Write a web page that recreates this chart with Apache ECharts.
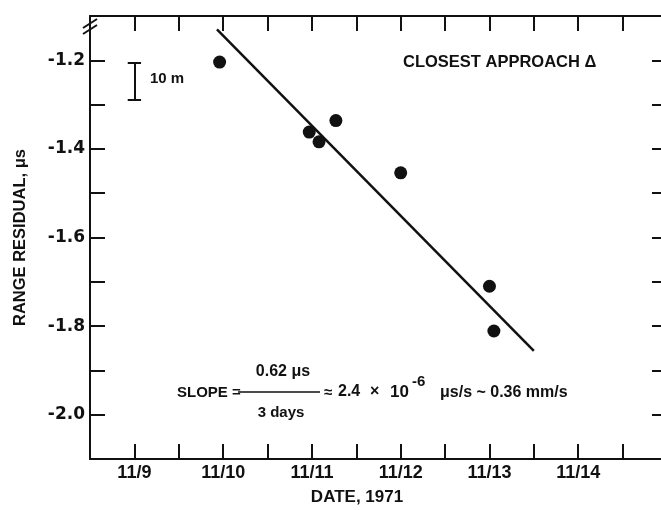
<!DOCTYPE html>
<html>
<head>
<meta charset="utf-8">
<script src="https://cdn.jsdelivr.net/npm/echarts@6/dist/echarts.min.js"></script>
<style>
  html, body { margin: 0; padding: 0; background: #fff; }
  #chart { width: 661px; height: 510px; }
</style>
</head>
<body>
<div id="chart"></div>
<script>
// Range residual at closest approach, November 1971 (date as day of November)
const obsDates = [9.96, 10.97, 11.08, 11.27, 12.00, 13.00, 13.05];
const obsResiduals = [-1.204, -1.362, -1.384, -1.336, -1.454, -1.710, -1.811];

// Fitted trend line end points
const fitDates = [9.93, 13.50];
const fitResiduals = [-1.130, -1.856];

// "10 m" scale bar (date, residual top, residual bottom)
const scaleBarDate = 9.0;
const scaleBarTop = -1.205;
const scaleBarBottom = -1.289;

// Tick labels
const xTickDays = [9, 10, 11, 12, 13, 14];
const xTickLabels = ['11/9', '11/10', '11/11', '11/12', '11/13', '11/14'];
const yTickValues = [-2.0, -1.8, -1.6, -1.4, -1.2];
const yTickLabels = ['-2.0', '-1.8', '-1.6', '-1.4', '-1.2'];

const FONT = 'Liberation Sans';
const WIDE = 'DejaVu Sans';
const INK = '#111';

const chart = echarts.init(document.getElementById('chart'), null, { renderer: 'canvas' });

const axisCommon = {
  type: 'value',
  axisLine: { show: true, lineStyle: { color: INK, width: 2 } },
  axisTick: { show: true, inside: true, length: 15, lineStyle: { color: INK, width: 2 } },
  splitLine: { show: false }
};

function xLabel(v) {
  const i = xTickDays.findIndex(d => Math.abs(d - v) < 1e-6);
  return i >= 0 ? xTickLabels[i] : '';
}
function yLabel(v) {
  const i = yTickValues.findIndex(d => Math.abs(d - v) < 1e-6);
  return i >= 0 ? yTickLabels[i] : '';
}

function txt(left, top, text, size, extra) {
  return Object.assign({
    type: 'text', left: left, top: top,
    style: { text: text, fill: INK, font: 'bold ' + size + 'px "' + FONT + '"' }
  }, extra || {});
}

const halfBar = 0.075;

chart.setOption({
  backgroundColor: '#fff',
  animation: false,
  grid: { left: 90, top: 16, width: 577, height: 443, outerBoundsMode: 'none', containLabel: false },
  xAxis: [
    Object.assign({}, axisCommon, {
      position: 'bottom', min: 8.5, max: 15, interval: 0.5,
      axisLabel: { show: true, formatter: xLabel, color: INK, fontFamily: FONT,
                   fontSize: 18, fontWeight: 'bold', margin: 5 }
    }),
    Object.assign({}, axisCommon, {
      position: 'top', min: 8.5, max: 15, interval: 0.5,
      axisLabel: { show: false }
    })
  ],
  yAxis: [
    Object.assign({}, axisCommon, {
      position: 'left', min: -2.1, max: -1.1, interval: 0.1,
      name: 'RANGE RESIDUAL, μs', nameLocation: 'middle', nameRotate: 90, nameGap: 61,
      nameTextStyle: { color: INK, fontFamily: FONT, fontSize: 16.5, fontWeight: 'bold' },
      axisLabel: { show: true, formatter: yLabel, color: INK, fontFamily: WIDE,
                   fontSize: 17, fontWeight: 'bold', margin: 5 }
    }),
    Object.assign({}, axisCommon, {
      position: 'right', min: -2.1, max: -1.1, interval: 0.1,
      axisLabel: { show: false }
    })
  ],
  series: [
    {
      type: 'line',
      data: fitDates.map((d, i) => [d, fitResiduals[i]]),
      symbol: 'none',
      lineStyle: { color: INK, width: 2.5 },
      silent: true,
      markLine: {
        silent: true,
        symbol: 'none',
        label: { show: false },
        lineStyle: { color: INK, width: 2, type: 'solid' },
        data: [
          [{ coord: [scaleBarDate, scaleBarTop] }, { coord: [scaleBarDate, scaleBarBottom] }],
          [{ coord: [scaleBarDate - halfBar, scaleBarTop] }, { coord: [scaleBarDate + halfBar, scaleBarTop] }],
          [{ coord: [scaleBarDate - halfBar, scaleBarBottom] }, { coord: [scaleBarDate + halfBar, scaleBarBottom] }]
        ]
      }
    },
    {
      type: 'scatter',
      data: obsDates.map((d, i) => [d, obsResiduals[i]]),
      symbol: 'circle',
      symbolSize: 13,
      itemStyle: { color: INK, opacity: 1 },
      silent: true
    }
  ],
  graphic: [
    // axis break mark at the upper left corner
    { type: 'line', shape: { x1: 83, y1: 28, x2: 97, y2: 19 }, style: { stroke: INK, lineWidth: 2 } },
    { type: 'line', shape: { x1: 83, y1: 34, x2: 97, y2: 25 }, style: { stroke: INK, lineWidth: 2 } },
    txt(403, 54, 'CLOSEST APPROACH Δ', 16.5),
    txt(150, 71, '10 m', 15),
    // slope annotation
    txt(177, 385, 'SLOPE =', 15),
    { type: 'line', shape: { x1: 238, y1: 392, x2: 320, y2: 392 }, style: { stroke: INK, lineWidth: 1.5 } },
    { type: 'text', x: 283, y: 372,
      style: { text: '0.62 μs', fill: INK, font: 'bold 16px "' + FONT + '"', align: 'center', verticalAlign: 'middle' } },
    { type: 'text', x: 281, y: 413,
      style: { text: '3 days', fill: INK, font: 'bold 15px "' + FONT + '"', align: 'center', verticalAlign: 'middle' } },
    txt(324, 385, '≈', 15),
    txt(338, 384, '2.4', 16),
    txt(370, 384, '×', 16),
    txt(390, 384, '10', 17),
    txt(412, 374, '-6', 15),
    txt(440, 385, 'μs/s ~ 0.36 mm/s', 16),
    { type: 'text', x: 357, y: 497,
      style: { text: 'DATE, 1971', fill: INK, font: 'bold 17px "' + FONT + '"', align: 'center', verticalAlign: 'middle' } }
  ]
});
</script>
</body>
</html>
